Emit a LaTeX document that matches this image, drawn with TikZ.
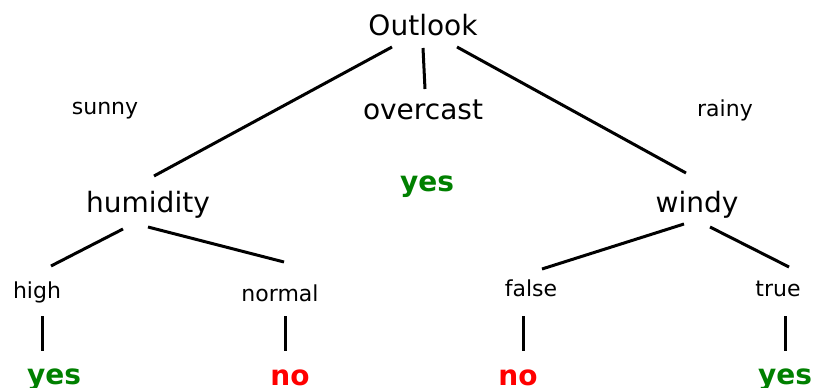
\documentclass[tikz,border=0pt]{standalone}
\usepackage{fontspec}
\setmainfont{DejaVu Sans}
\definecolor{leafgreen}{HTML}{008000}
\definecolor{leafred}{HTML}{FF0000}
\begin{document}
\begin{tikzpicture}[x=1pt,y=-1pt,
  attr/.style={anchor=base,inner sep=0pt,font=\fontsize{28}{34}\selectfont},
  val/.style={anchor=base,inner sep=0pt,font=\fontsize{22}{26}\selectfont},
  yesleaf/.style={anchor=base,inner sep=0pt,font=\fontsize{28}{34}\selectfont\bfseries,text=leafgreen},
  noleaf/.style={anchor=base,inner sep=0pt,font=\fontsize{28}{34}\selectfont\bfseries,text=leafred},
  edge/.style={line width=3pt,black}]
\useasboundingbox[fill=white] (0,0) rectangle (814,388);
% nodes
\node[attr] (outlook) at (423,35) {Outlook};
\node[val] (sunny) at (105,114) {sunny};
\node[attr] (overcast) at (423,119) {overcast};
\node[val] (rainy) at (725,116) {rainy};
\node[yesleaf] (yesmid) at (427,191) {yes};
\node[attr] (humidity) at (148,212) {humidity};
\node[attr] (windy) at (697,212) {windy};
\node[val] (high) at (37,298) {high};
\node[val] (normal) at (280,301) {normal};
\node[val] (false) at (531,296) {false};
\node[val] (true) at (778,296) {true};
\node[yesleaf] (yes1) at (54,384) {yes};
\node[noleaf] (no1) at (290,385) {no};
\node[noleaf] (no2) at (518,385) {no};
\node[yesleaf] (yes2) at (785,384) {yes};
% connector end points
\coordinate (oL) at (392,47);  \coordinate (hT) at (154,176);
\coordinate (oM) at (423,48);  \coordinate (ovT) at (425,89);
\coordinate (oR) at (457,47);  \coordinate (wT) at (686,173);
\coordinate (hL) at (123,229); \coordinate (hiT) at (51,266);
\coordinate (hR) at (148,227); \coordinate (nT) at (284,262);
\coordinate (wL) at (684,224); \coordinate (fT) at (542,269);
\coordinate (wR) at (710,227); \coordinate (tT) at (789,267);
\coordinate (hiB) at (42,316);  \coordinate (y1T) at (42,351);
\coordinate (nB) at (285,316);  \coordinate (n1T) at (285,351);
\coordinate (fB) at (523,316);  \coordinate (n2T) at (523,351);
\coordinate (tB) at (785,316);  \coordinate (y2T) at (785,351);
% connectors
\draw[edge] (oL) -- (hT);
\draw[edge] (oM) -- (ovT);
\draw[edge] (oR) -- (wT);
\draw[edge] (hL) -- (hiT);
\draw[edge] (hR) -- (nT);
\draw[edge] (wL) -- (fT);
\draw[edge] (wR) -- (tT);
\draw[edge] (hiB) -- (y1T);
\draw[edge] (nB) -- (n1T);
\draw[edge] (fB) -- (n2T);
\draw[edge] (tB) -- (y2T);
\end{tikzpicture}
\end{document}
